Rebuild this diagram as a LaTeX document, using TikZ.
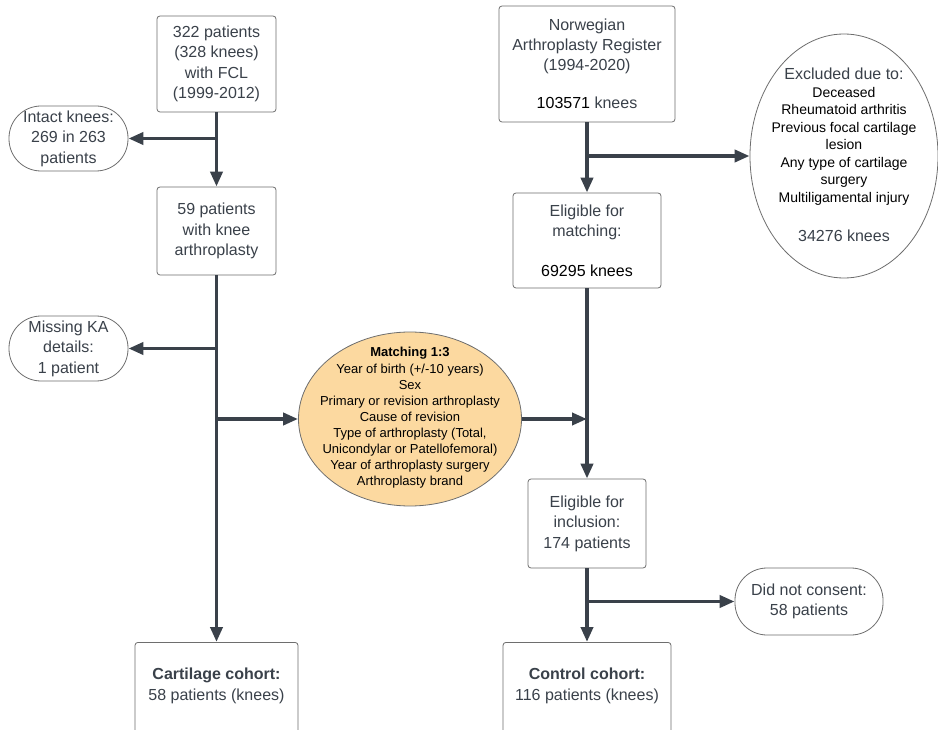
\documentclass[tikz,border=0pt]{standalone}
\usepackage{fontspec}
\setmainfont{Liberation Sans}
\usetikzlibrary{shapes.geometric, arrows.meta}
\definecolor{ink}{HTML}{3A414A}
\definecolor{rim}{HTML}{6E6E6E}
\definecolor{peach}{HTML}{FCD9A0}
\tikzset{
  box/.style={draw=rim, line width=0.8pt, rounded corners=3pt, align=center, text=ink, inner sep=0pt, font=\fontsize{16}{20.5}\selectfont},
  oval/.style={box, rounded corners=32pt},
  cohort/.style={box, anchor=north, inner ysep=26pt},
  link/.style={draw=ink, line width=3.8pt, -{Triangle[length=15pt,width=12pt]}},
}

\begin{document}
\begin{tikzpicture}[x=1pt,y=-1pt]
\path[use as bounding box, fill=white] (0,0) rectangle (938,730);
\node[box, minimum width=119, minimum height=96] (fcl) at (216.5,64) {322 patients\\(328 knees)\\with FCL\\(1999-2012)};
\node[oval, minimum width=119, minimum height=65] (intact) at (68.5,138.5) {Intact knees:\\269 in 263\\patients};
\node[box, minimum width=119, minimum height=88] (ka) at (216.5,231) {59 patients\\with knee\\arthroplasty};
\node[oval, minimum width=119, minimum height=65] (missing) at (68.5,348.5) {Missing KA\\details:\\1 patient};
\node[cohort, minimum width=163] (cart) at (216.5,642) {\textbf{Cartilage cohort:}\\58 patients (knees)\\ \mbox{}};
\node[ellipse, draw=rim, line width=0.8pt, fill=peach, minimum width=223, minimum height=174, inner sep=0pt] (match) at (410,419) {};
\node[align=center, font=\fontsize{13}{16.1}\selectfont] (matchtxt) at (410,418) {\textbf{Matching 1:3}\\Year of birth (+/-10 years)\\Sex\\Primary or revision arthroplasty\\Cause of revision\\Type of arthroplasty (Total,\\Unicondylar or Patellofemoral)\\Year of arthroplasty surgery\\Arthroplasty brand};
\node[box, minimum width=176, minimum height=116, font=\fontsize{16}{20}\selectfont] (nar) at (587,64) {Norwegian\\Arthroplasty Register\\(1994-2020)\\[18pt]\textcolor{black}{103571} knees};
\node[ellipse, draw=rim, line width=0.8pt, minimum width=188, minimum height=244, inner sep=0pt] (excl) at (844,156) {};
\node[align=center, font=\fontsize{14}{17.5}\selectfont] (excltxt) at (844,155) {\textcolor{ink}{\fontsize{16}{17.5}\selectfont Excluded due to:}\\Deceased\\Rheumatoid arthritis\\Previous focal cartilage\\lesion\\Any type of cartilage\\surgery\\Multiligamental injury\\[22pt]\textcolor{ink}{\fontsize{16}{17.5}\selectfont 34276 knees}};
\node[box, minimum width=148, minimum height=95, font=\fontsize{16}{20}\selectfont] (elm) at (587,240.5) {Eligible for\\matching:\\[20pt]\textcolor{black}{69295 knees}};
\node[box, minimum width=118, minimum height=89] (eli) at (587,523.5) {Eligible for\\inclusion:\\174 patients};
\node[oval, minimum width=148, minimum height=67] (dnc) at (809,601.5) {Did not consent:\\58 patients};
\node[cohort, minimum width=168] (ctl) at (587,642) {\textbf{Control cohort:}\\116 patients (knees)\\ \mbox{}};
\draw[link] (fcl) -- (ka);
\draw[link] (fcl.south |- intact.east) -- (intact.east);
\draw[link] (ka) -- (cart);
\draw[link] (ka.south |- missing.east) -- (missing.east);
\draw[link] (ka.south |- match.west) -- (match.west);
\draw[link] (nar) -- (elm);
\draw[link] (nar.south |- excl.west) -- (excl.west);
\draw[link] (elm) -- (eli);
\draw[link] (match.east) -- (match.east -| elm.south);
\draw[link] (eli) -- (ctl);
\draw[link] (eli.south |- dnc.west) -- (dnc.west);
\end{tikzpicture}
\end{document}
